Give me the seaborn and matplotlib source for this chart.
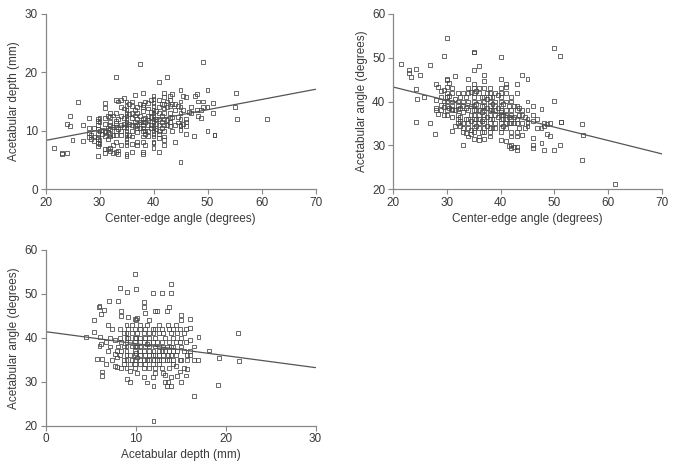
import numpy as np
import pandas as pd
import matplotlib
matplotlib.use("Agg")
import matplotlib.pyplot as plt
import seaborn as sns

# ---------------- Panel A: center-edge angle vs acetabular depth ----------------
p1_cols = {
    21.5: [7.1], 23: [6.0, 6.2], 24: [6.2, 11.2], 24.5: [10.8, 12.5], 25: [8.4],
    26: [14.9], 27: [11.0, 8.2], 28: [12.2, 10.4, 9.6, 8.9], 28.5: [8.6, 9.2],
    29: [9.0, 10.5, 8.3],
    29.7: [5.6, 7.3, 7.9, 8.6, 9.4, 10.3, 11.0, 11.6, 12.0, 8.9],
    30: [10.0, 11.5, 12.1, 7.7, 8.4], 30.5: [10.1, 9.5],
    31: [14.7, 13.9, 12.1, 11.2, 10.0, 9.7, 9.0, 6.2, 6.9],
    31.5: [12.5, 10.5, 9.8, 8.5, 6.8],
    32: [13.0, 12.3, 11.5, 10.3, 9.5, 9.0, 7.0, 6.5, 11.0],
    32.5: [10.7, 12.6, 9.3, 7.5, 6.2],
    33: [15.3, 13.0, 11.7, 11.3, 10.7, 9.9, 9.3, 8.0, 6.4, 19.2],
    33.5: [15.0, 12.0, 10.3, 6.0, 6.6],
    34: [15.2, 14.0, 12.5, 11.0, 10.0, 9.3, 7.5],
    34.5: [15.6, 13.8, 12.2, 11.2, 10.6],
    35: [15.0, 14.2, 13.5, 13.0, 12.5, 12.0, 11.5, 11.0, 10.5, 10.0, 9.5, 9.0,
         8.5, 8.0, 7.5, 6.0, 5.7],
    35.5: [14.6, 12.8, 11.2, 9.3],
    36: [15.0, 14.2, 13.0, 12.2, 11.0, 10.0, 9.0, 7.7, 6.4],
    36.5: [13.5, 12.6, 11.5, 10.8, 16.1],
    37: [14.0, 13.0, 12.0, 11.0, 10.4, 9.8, 8.0, 7.5],
    37.5: [21.5, 12.5, 11.5, 10.5, 14.5],
    38: [16.4, 14.4, 14.0, 13.3, 12.0, 11.5, 11.0, 10.5, 10.0, 9.0, 8.0, 6.4, 6.0],
    38.5: [15.0, 12.2, 11.4, 10.0, 9.4, 7.6],
    39: [14.8, 13.8, 12.5, 11.8, 11.0, 10.0, 9.1],
    39.5: [15.2, 13.2, 12.3, 11.0, 10.5],
    40: [16.0, 15.5, 14.8, 14.2, 13.6, 13.0, 12.5, 12.0, 11.5, 11.0, 10.5, 10.0,
         9.5, 9.0, 8.0, 7.9, 7.0],
    40.5: [13.4, 12.0, 11.2, 10.2],
    41: [18.3, 15.2, 14.0, 13.0, 12.0, 11.0, 10.0, 9.5, 8.8, 6.3],
    41.5: [14.5, 12.5, 11.5, 10.5],
    42: [16.4, 15.8, 14.5, 13.8, 13.0, 12.0, 11.0, 10.0, 9.0, 8.4, 7.5],
    42.5: [19.2, 15.0, 14.0, 11.8, 11.0],
    43: [16.0, 15.3, 14.3, 13.0, 12.2, 11.5, 10.8],
    43.5: [16.3, 14.6, 12.3, 9.9],
    44: [14.6, 13.6, 11.0, 8.0], 44.5: [14.3, 12.4, 11.4],
    45: [17.0, 15.0, 14.0, 13.0, 12.0, 11.0, 10.8, 10.1, 4.6],
    45.5: [16.0, 13.5, 11.2], 46: [15.8, 12.0, 11.5, 10.8, 9.4], 46.5: [13.2],
    47: [14.0, 13.1], 47.5: [9.1], 47.7: [15.9], 48: [16.3, 13.6],
    48.3: [15.0, 12.5], 48.8: [13.6, 12.2], 49.2: [21.7, 15.0, 14.0],
    50: [17.0, 14.0, 10.0], 51.1: [14.7, 13.1], 51.3: [9.3, 9.2],
    55.1: [14.0], 55.3: [16.5], 55.4: [12.0], 61: [12.0],
}

# ---------------- Panel B: center-edge angle vs acetabular angle ----------------
p2_cols = {
    21.5: [48.5], 23: [47.1, 46.5], 23.4: [45.5], 24.2: [47.4, 42.8, 35.3],
    24.4: [40.5], 25.1: [46.1], 25.8: [41.1], 26.9: [48.4, 35.1], 27.8: [32.5],
    28: [44.0, 40.4, 38.6, 38.1], 28.3: [43.3, 37.2], 29: [41.0, 39.2, 38.0, 42.5],
    29.5: [50.4, 42.7, 40.0, 38.8, 37.0],
    30: [54.6, 45.1, 45.0, 43.3, 42.0, 41.1, 41.0, 40.0, 39.0, 38.0, 37.0],
    30.4: [44.3, 41.2, 38.5],
    31: [43.0, 42.0, 40.0, 39.0, 38.3, 38.0, 36.5, 33.2],
    31.6: [45.9, 40.5, 38.0, 34.3],
    32: [42.0, 40.0, 39.0, 38.3, 37.0, 36.0, 35.0],
    32.5: [41.0, 38.5, 36.5, 35.5, 34.5],
    33: [42.0, 40.0, 39.0, 37.5, 35.0, 34.0, 33.0, 30.0],
    33.5: [41.0, 38.5, 36.0, 32.9],
    34: [45.2, 43.0, 42.0, 40.0, 38.0, 36.0, 35.0, 34.0, 32.0],
    34.5: [42.2, 39.0, 37.0, 35.5, 33.5, 32.5],
    35: [51.3, 51.2, 47.1, 44.0, 43.0, 42.0, 41.0, 40.0, 39.0, 38.0, 37.0, 36.0,
         35.0, 34.0, 33.0, 31.4],
    35.5: [42.5, 39.5, 38.0, 36.0, 34.5],
    36: [48.2, 43.0, 42.0, 40.0, 38.0, 37.0, 36.0, 35.0, 34.0, 32.0, 31.1],
    36.5: [41.0, 39.0, 37.5, 35.5, 33.0],
    37: [46.1, 44.6, 43.0, 41.0, 40.0, 39.0, 38.0, 37.0, 36.0, 35.0, 34.0, 33.0, 31.5],
    37.5: [42.0, 40.5, 38.5, 36.5, 34.5],
    38: [43.0, 42.0, 41.0, 40.0, 39.0, 38.0, 37.0, 36.0, 35.0, 34.0, 33.0, 32.0],
    38.5: [41.0, 39.5, 38.0, 36.0, 34.0],
    39: [42.0, 40.0, 39.0, 38.0, 37.0, 35.0, 34.0],
    39.5: [41.5, 38.5, 36.5],
    40: [50.1, 45.2, 43.0, 42.0, 41.0, 40.0, 39.0, 38.0, 37.5, 37.0, 36.0, 35.0,
         34.0, 33.0, 31.1],
    40.5: [39.5, 37.0, 36.0, 34.5],
    41: [44.0, 43.3, 42.0, 40.0, 38.0, 37.0, 36.0, 35.0, 34.0, 30.9],
    41.5: [39.0, 36.5, 35.0, 29.9],
    42: [41.0, 40.0, 38.0, 37.0, 36.0, 35.0, 33.0, 32.0, 30.0, 29.3],
    42.5: [39.0, 36.5, 35.0, 29.5],
    43: [44.0, 42.0, 39.0, 38.0, 36.0, 35.0, 33.0, 32.0, 29.7, 29.0],
    43.5: [38.5, 37.0, 34.0], 44: [46.1, 38.0, 37.0, 35.0, 32.4], 44.5: [36.5, 34.0],
    45: [45.2, 40.0, 38.0, 36.0, 35.0, 34.5],
    46: [39.0, 37.0, 35.5, 31.6, 30.0, 29.3], 46.7: [33.9, 36.0],
    47.6: [38.3, 33.9, 30.5], 48.1: [35.0, 34.5, 29.0], 48.7: [34.9, 32.6],
    49.1: [32.2, 35.0], 50: [52.3, 40.2, 29.0], 51: [50.3, 30.0],
    51.3: [35.3, 35.3], 55.2: [34.9, 26.7], 55.4: [32.4], 61.2: [21.1],
}

# ---------------- Panel C: acetabular depth vs acetabular angle ----------------
p3_cols = {
    4.5: [40.1], 5.4: [44.1, 41.4], 5.7: [35.1], 5.9: [47.0], 6.0: [47.2, 38.1],
    6.1: [40.1], 6.2: [45.4, 38.5], 6.3: [35.1, 32.3, 31.2], 6.5: [46.3],
    6.7: [34.0, 39.0], 6.9: [43.0, 37.0], 7.1: [48.4], 7.2: [40.0, 38.0],
    7.4: [42.1, 35.0], 7.7: [36.2, 33.5, 39.5], 7.9: [33.3, 37.0, 35.5],
    8.1: [48.3, 38.0], 8.3: [51.4, 42.0, 40.0, 36.0],
    8.4: [46.1, 45.0, 39.0, 37.0, 33.0], 8.7: [41.0, 38.0, 35.0, 34.0],
    9.0: [43.0, 41.0, 40.0, 39.0, 38.0, 37.0, 36.0, 35.0, 33.0],
    9.1: [50.4, 30.5], 9.2: [44.7, 42.0, 40.0],
    9.4: [30.0, 39.0, 36.0, 34.0, 32.5], 9.6: [43.0, 41.0, 38.0, 35.0],
    9.9: [54.5, 44.2, 42.0, 40.0, 39.0, 38.0, 37.0, 36.0, 35.0, 34.0, 33.0],
    10.1: [51.1, 44.0, 40.0, 36.5], 10.2: [44.6, 41.0, 38.0, 35.5, 32.0],
    10.5: [43.0, 42.0, 40.0, 39.0, 38.0, 37.0, 36.0, 35.0, 34.0],
    10.9: [48.2, 47.0, 41.0, 39.0, 37.0, 35.0, 33.0, 31.0],
    11.1: [45.6, 42.0, 40.0, 38.0, 36.0, 34.0], 11.3: [29.8, 43.0, 38.5, 35.0],
    11.5: [44.0, 41.0, 40.0, 39.0, 38.0, 37.0, 36.0, 35.0, 33.0],
    11.9: [50.3, 42.0, 39.0, 36.0, 34.0, 31.0], 12.0: [29.1, 21.1, 41.0, 37.0, 35.0],
    12.2: [46.0, 42.0, 40.0, 38.0, 36.0, 33.0, 32.0], 12.4: [46.1, 39.0, 35.0],
    12.6: [43.0, 41.0, 38.0, 37.0, 36.0, 35.0, 34.0],
    12.9: [50.3, 42.0, 39.0, 37.0, 33.0], 13.1: [41.0, 38.0, 36.0, 35.0, 31.9],
    13.3: [31.5, 30.0, 40.0, 37.0], 13.5: [46.1, 29.1, 38.0, 35.0],
    13.6: [30.0, 43.0, 36.0], 13.7: [47.1, 42.0, 39.0, 37.0, 35.0, 33.0],
    13.9: [52.3, 50.3, 29.1, 41.0, 38.0, 36.0, 31.0],
    14.2: [42.0, 40.0, 38.0, 37.0, 35.0, 34.0], 14.5: [43.0, 39.0, 36.0, 33.5],
    14.6: [31.2, 41.0, 37.0], 14.9: [32.3, 42.0, 39.0, 35.0],
    15.1: [44.1, 45.2, 30.0, 40.0, 38.0, 35.0], 15.4: [41.0, 37.0, 33.0],
    15.6: [31.4, 42.0, 39.0], 15.7: [32.8, 36.0, 35.0],
    16.1: [44.2, 42.3, 39.4, 36.0, 37.0], 16.5: [35.0, 26.8, 38.0], 16.9: [35.0],
    17.0: [40.1], 18.2: [37.1], 19.2: [29.3], 19.3: [35.3], 21.4: [41.0], 21.5: [34.8],
}


def to_frame(cols, xname, yname):
    xs, ys = [], []
    for k, vals in cols.items():
        for v in vals:
            xs.append(k)
            ys.append(v)
    return pd.DataFrame({xname: xs, yname: ys})


df1 = to_frame(p1_cols, "ce", "ad")
df2 = to_frame(p2_cols, "ce", "aa")
df3 = to_frame(p3_cols, "ad", "aa")

sns.set_theme(style="ticks")
plt.rcParams["font.family"] = ["Liberation Sans", "DejaVu Sans"]
plt.rcParams["text.color"] = "#3a3a3a"
plt.rcParams["axes.labelcolor"] = "#3a3a3a"
plt.rcParams["xtick.color"] = "#888888"
plt.rcParams["ytick.color"] = "#888888"
plt.rcParams["xtick.labelcolor"] = "#3a3a3a"
plt.rcParams["ytick.labelcolor"] = "#3a3a3a"

W, H = 674, 468
fig = plt.figure(figsize=(W / 100, H / 100), dpi=100)


def box(l, r, t, b):
    return [l / W, (H - b) / H, (r - l) / W, (b - t) / H]


ax1 = fig.add_axes(box(45.5, 315.5, 14, 189))
ax2 = fig.add_axes(box(393, 662, 14, 189))
ax3 = fig.add_axes(box(45.5, 315.5, 250, 425.5))

scatter_kw = dict(s=8, facecolors="none", edgecolors="#444444", linewidths=0.7)
line_kw = dict(color="#555555", lw=0.9)


def panel(ax, df, x, y, xlim, ylim, xt, yt, xl, yl):
    ax.set_xlim(*xlim)
    ax.set_ylim(*ylim)
    sns.regplot(data=df, x=x, y=y, ax=ax, ci=None, truncate=False, marker="s",
                scatter_kws=scatter_kw, line_kws=line_kw)
    ax.set_xlim(*xlim)
    ax.set_ylim(*ylim)
    ax.set_xticks(xt)
    ax.set_yticks(yt)
    ax.set_xlabel(xl, fontsize=8.5, labelpad=3)
    ax.set_ylabel(yl, fontsize=8.5, labelpad=3)
    ax.tick_params(labelsize=8.5, length=3.5, width=0.8, pad=2)
    for s in ["top", "right"]:
        ax.spines[s].set_visible(False)
    for s in ["left", "bottom"]:
        ax.spines[s].set_color("#888888")
        ax.spines[s].set_linewidth(0.9)


panel(ax1, df1, "ce", "ad", (20, 70), (0, 30), [20, 30, 40, 50, 60, 70],
      [0, 10, 20, 30], "Center-edge angle (degrees)", "Acetabular depth (mm)")
panel(ax2, df2, "ce", "aa", (20, 70), (20, 60), [20, 30, 40, 50, 60, 70],
      [20, 30, 40, 50, 60], "Center-edge angle (degrees)", "Acetabular angle (degrees)")
panel(ax3, df3, "ad", "aa", (0, 30), (20, 60), [0, 10, 20, 30],
      [20, 30, 40, 50, 60], "Acetabular depth (mm)", "Acetabular angle (degrees)")

fig.savefig("out.png", dpi=100)
